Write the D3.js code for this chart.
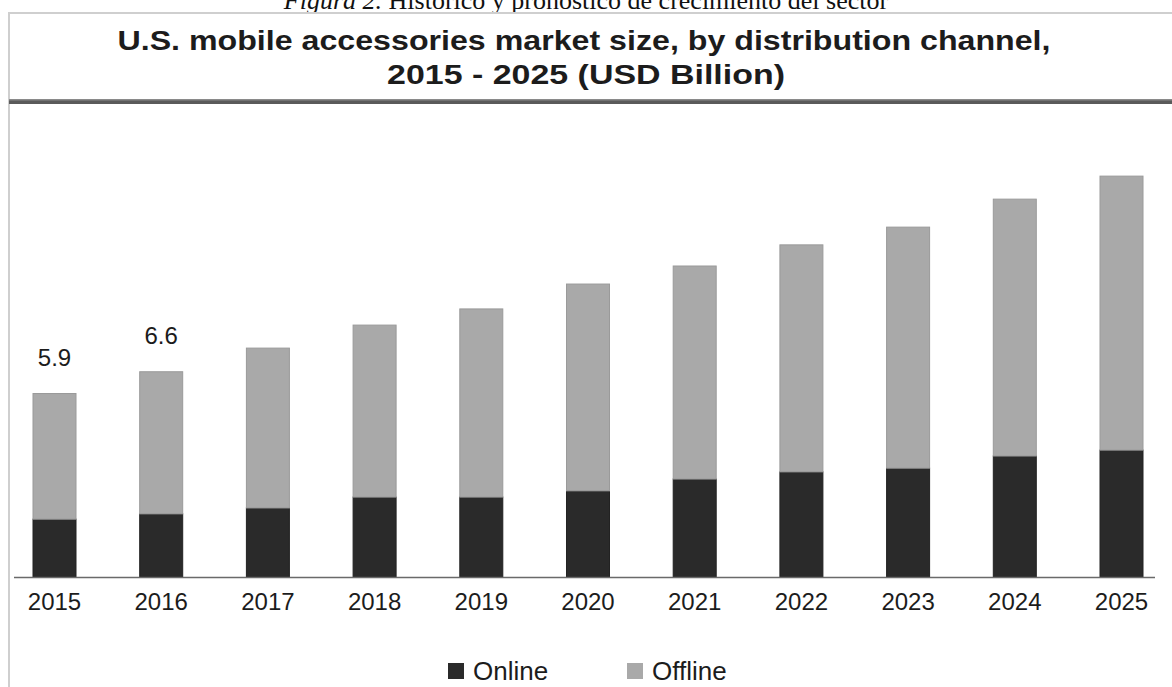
<!DOCTYPE html>
<html>
<head>
<meta charset="utf-8">
<script src="https://cdn.jsdelivr.net/npm/d3@7"></script>
<style>
  html, body { margin: 0; padding: 0; background: #fff; }
  svg { display: block; }
  text { font-family: "Liberation Sans", Arial, sans-serif; fill: #1c1c1c; }
</style>
</head>
<body>
<svg width="1172" height="687"></svg>
<script>
// values (USD Billion)
var years = ["2015", "2016", "2017", "2018", "2019", "2020", "2021", "2022", "2023", "2024", "2025"];
var online = [1.86, 2.03, 2.22, 2.57, 2.57, 2.77, 3.15, 3.38, 3.50, 3.89, 4.08];
var offline = [4.04, 4.57, 5.14, 5.53, 6.05, 6.65, 6.85, 7.30, 7.75, 8.26, 8.81];
var totalLabels = ["5.9", "6.6", "", "", "", "", "", "", "", "", ""];
var seriesNames = ["Online", "Offline"];
var colors = {Online: "#2a2a2a", Offline: "#a9a9a9"};

var svg = d3.select("svg");

// caption above the box (its top is cut off in the original too)
var cap = svg.append("text")
  .attr("x", 586).attr("y", 9)
  .attr("text-anchor", "middle")
  .style("font-family", "'Liberation Serif', 'Times New Roman', serif")
  .style("font-size", "26px")
  .style("fill", "#111");
cap.append("tspan").style("font-style", "italic").text("Figura 2.");
cap.append("tspan").text(" Histórico y pronóstico de crecimiento del sector");

// box border
svg.append("path")
  .attr("d", "M1174,13 H9 V690")
  .attr("fill", "none")
  .attr("stroke", "#cfcfcf")
  .attr("stroke-width", 2);

// title
svg.append("text")
  .attr("x", 584).attr("y", 50)
  .attr("text-anchor", "middle")
  .attr("textLength", 933).attr("lengthAdjust", "spacingAndGlyphs")
  .style("font-size", "28px").style("font-weight", "bold")
  .text("U.S. mobile accessories market size, by distribution channel,");
svg.append("text")
  .attr("x", 586).attr("y", 84)
  .attr("text-anchor", "middle")
  .attr("textLength", 398).attr("lengthAdjust", "spacingAndGlyphs")
  .style("font-size", "28px").style("font-weight", "bold")
  .text("2015 - 2025 (USD Billion)");

// thick rule under title
svg.append("rect").attr("x", 9).attr("y", 99).attr("width", 1165).attr("height", 5).attr("fill", "#5a5a5a");
svg.append("rect").attr("x", 9).attr("y", 99).attr("width", 1165).attr("height", 1.5).attr("fill", "#8a8a8a");

// scales
var x = d3.scaleBand().domain(years).range([33, 1143]).paddingInner(0.597).paddingOuter(0);
var y = d3.scaleLinear().domain([0, 14]).range([577, 141.6]);

var rows = years.map(function(yr, i) {
  return {year: yr, Online: online[i], Offline: offline[i], label: totalLabels[i]};
});
var stack = d3.stack().keys(seriesNames)(rows);

svg.append("g").selectAll("g")
  .data(stack)
  .enter().append("g")
  .attr("fill", function(d) { return colors[d.key]; })
  .attr("stroke", function(d) { return d.key === "Offline" ? "#9a9a9a" : "#222"; })
  .attr("stroke-width", 1)
  .selectAll("rect")
  .data(function(d) { return d; })
  .enter().append("rect")
  .attr("x", function(d) { return x(d.data.year); })
  .attr("width", x.bandwidth())
  .attr("y", function(d) { return y(d[1]); })
  .attr("height", function(d) { return y(d[0]) - y(d[1]); });

// total labels
svg.append("g").selectAll("text")
  .data(rows.filter(function(d) { return d.label; }))
  .enter().append("text")
  .attr("x", function(d) { return x(d.year) + x.bandwidth() / 2; })
  .attr("y", function(d) { return y(d.Online + d.Offline) - 28; })
  .attr("text-anchor", "middle")
  .style("font-size", "24px")
  .text(function(d) { return d.label; });

// baseline
svg.append("line")
  .attr("x1", 14).attr("x2", 1155)
  .attr("y1", y(0) + 0.5).attr("y2", y(0) + 0.5)
  .attr("stroke", "#6a6a6a").attr("stroke-width", 1.5);

// x axis labels
var xAxis = svg.append("g")
  .attr("transform", "translate(0," + y(0) + ")")
  .call(d3.axisBottom(x).tickSize(0));
xAxis.select(".domain").remove();
xAxis.selectAll("text")
  .attr("y", 33).attr("dy", 0)
  .style("font-size", "24px")
  .style("font-family", "'Liberation Sans', Arial, sans-serif")
  .style("fill", "#1c1c1c");

// legend
var legendX = [448, 627];
var legend = svg.append("g").selectAll("g")
  .data(seriesNames)
  .enter().append("g")
  .attr("transform", function(d, i) { return "translate(" + legendX[i] + ",663)"; });
legend.append("rect")
  .attr("width", 16).attr("height", 16)
  .attr("fill", function(d) { return colors[d]; });
legend.append("text")
  .attr("x", 25).attr("y", 17)
  .style("font-size", "26px")
  .text(function(d) { return d; });
</script>
</body>
</html>
